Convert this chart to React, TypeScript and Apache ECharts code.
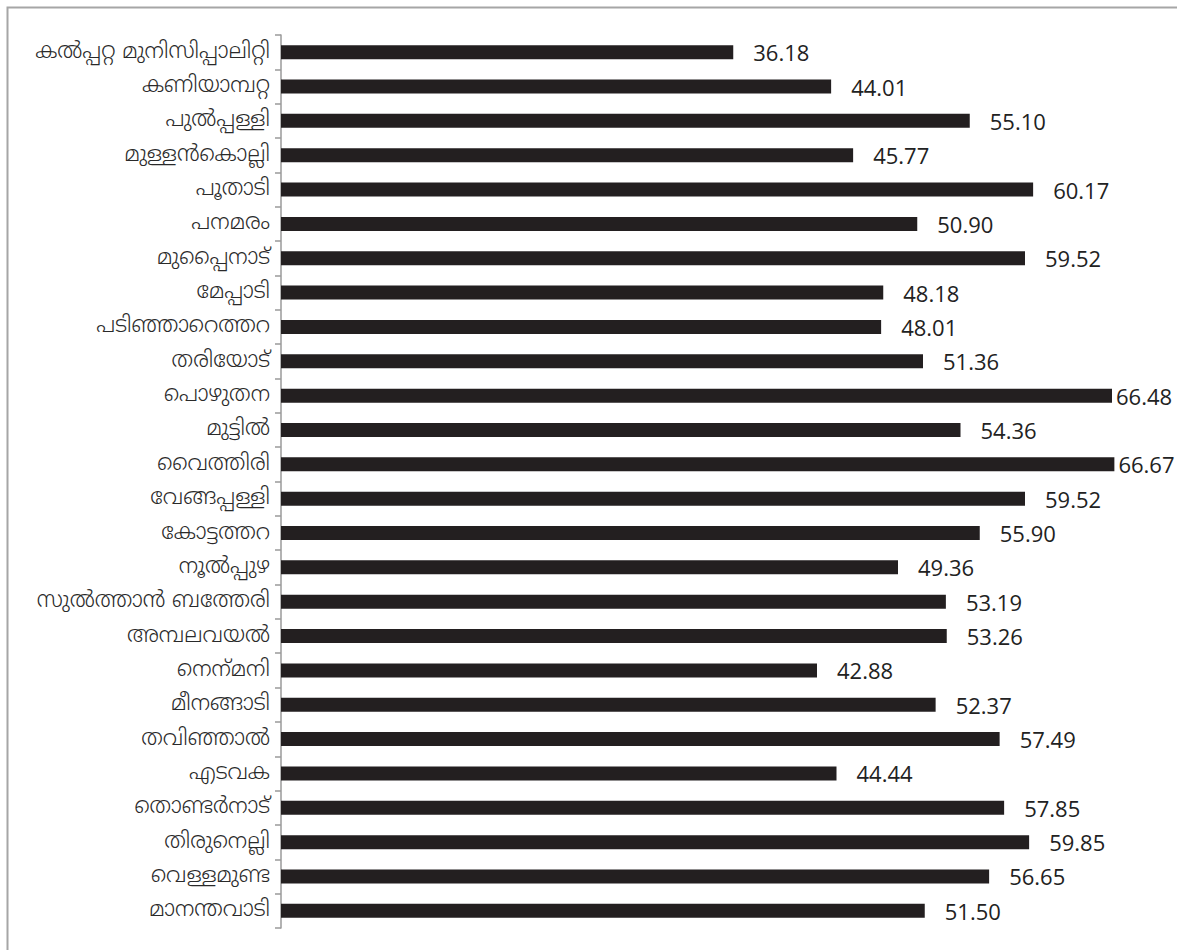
import React, { useEffect, useRef } from "react";
import * as echarts from "echarts";

const categories = [
  "കൽപ്പറ്റ മുനിസിപ്പാലിറ്റി",
  "കണിയാമ്പറ്റ",
  "പുൽപ്പള്ളി",
  "മുള്ളൻകൊല്ലി",
  "പൂതാടി",
  "പനമരം",
  "മുപ്പൈനാട്",
  "മേപ്പാടി",
  "പടിഞ്ഞാറെത്തറ",
  "തരിയോട്",
  "പൊഴുതന",
  "മുട്ടിൽ",
  "വൈത്തിരി",
  "വേങ്ങപ്പള്ളി",
  "കോട്ടത്തറ",
  "നൂൽപ്പുഴ",
  "സുൽത്താൻ ബത്തേരി",
  "അമ്പലവയൽ",
  "നെന്\u200Cമനി",
  "മീനങ്ങാടി",
  "തവിഞ്ഞാൽ",
  "എടവക",
  "തൊണ്ടർനാട്",
  "തിരുനെല്ലി",
  "വെള്ളമുണ്ട",
  "മാനന്തവാടി",
];

const values = [
  36.18, 44.01, 55.1, 45.77, 60.17, 50.9, 59.52, 48.18, 48.01, 51.36, 66.48,
  54.36, 66.67, 59.52, 55.9, 49.36, 53.19, 53.26, 42.88, 52.37, 57.49, 44.44,
  57.85, 59.85, 56.65, 51.5,
];

const axisMin = 0;
const axisMax = 70;

export default function App() {
  const ref = useRef<HTMLDivElement>(null);
  useEffect(() => {
    if (!ref.current) return;
    const chart = echarts.init(ref.current, null, { renderer: "svg" });
    chart.setOption({
      animation: false,
      backgroundColor: "#ffffff",
      graphic: [
        {
          type: "rect",
          shape: { x: 7.5, y: 7.5, width: 1200, height: 1000 },
          style: { fill: "none", stroke: "#a6a6a6", lineWidth: 2 },
          silent: true,
        },
      ],
      grid: { left: 281, right: 21, top: 35, bottom: 22, containLabel: false },
      xAxis: {
        type: "value",
        min: axisMin,
        max: axisMax,
        show: false,
      },
      yAxis: {
        type: "category",
        data: categories,
        inverse: true,
        axisLine: { show: true, lineStyle: { color: "#9a9a9a", width: 1.5 } },
        axisTick: { show: true, length: 6, lineStyle: { color: "#9a9a9a", width: 1.5 } },
        axisLabel: {
          color: "#2a2a2a",
          fontSize: 22,
          fontWeight: 300,
          margin: 11,
          fontFamily: "'Noto Sans Malayalam', 'Noto Sans', sans-serif",
        },
        splitLine: { show: false },
      },
      series: [
        {
          type: "bar",
          barWidth: 14,
          itemStyle: { color: "#231f20" },
          data: values.map((v) => ({
            value: v,
            label: { distance: v > 65 ? 4 : 20 },
          })),
          label: {
            show: true,
            position: "right",
            color: "#222222",
            fontSize: 22,
            fontFamily: "'Open Sans', sans-serif",
            formatter: (p: any) => Number(p.value).toFixed(2),
          },
        },
      ],
    });
    return () => chart.dispose();
  }, []);
  return (
    <div
      ref={ref}
      style={{ position: "fixed", left: 0, top: 0, width: 1177, height: 950 }}
    />
  );
}
